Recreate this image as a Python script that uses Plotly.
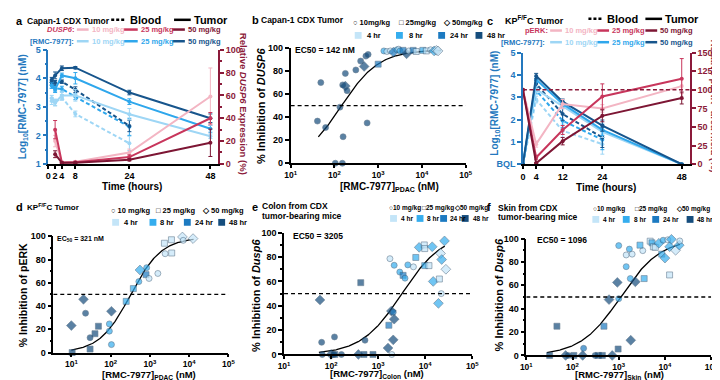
import plotly.graph_objects as go
import numpy as np

W, H = 720, 380
FONT = "Liberation Sans, Arial, sans-serif"

# ---------------- colours ----------------
BLUE = {10: '#9ED6F5', 25: '#2FA7EC', 50: '#17558C'}
RED = {10: '#F3B5C3', 25: '#C8365C', 50: '#7D1634'}
TIMEC = {4: '#C4E5F8', 8: '#35ADEE', 24: '#1C7AC1', 48: '#154D7D'}
SYM = {10: 'circle', 25: 'square', 50: 'diamond'}
AXBLUE = '#2478BE'
AXRED = '#8B1A3A'

# ---------------- panel a data ----------------
a_tumor_hours = [1, 2, 4, 8, 24, 48]
a_tumor_10 = [3.2, 3.15, 3.4, 3.4, 2.74, 1.97]
a_tumor_25 = [3.75, 3.6, 4.1, 4.0, 3.18, 2.23]
a_tumor_50 = [3.95, 4.1, 4.35, 4.37, 3.5, 2.6]
a_tumor_10_err = [0.12, 0.12, 0.15, 0.2, 0.2, 0.08]
a_tumor_25_err = [0.1, 0.1, 0.08, 0.2, 0.1, 0.12]
a_tumor_50_err = [0.08, 0.12, 0.08, 0.04, 0.08, 0.15]
a_blood_hours = [1, 2, 4, 8, 24]
a_blood_10 = [3.3, 3.15, 3.33, 2.75, 1.72]
a_blood_25 = [3.75, 3.65, 3.62, 3.35, 2.3]
a_blood_50 = [3.85, 3.84, 3.88, 3.6, 2.33]
a_blood_10_err = [0.1, 0.1, 0.1, 0.1, 0.25]
a_blood_25_err = [0.1, 0.1, 0.1, 0.1, 0.3]
a_blood_50_err = [0.08, 0.08, 0.06, 0.1, 0.2]
a_dusp_hours = [2, 4, 8, 24, 48]
a_dusp_10 = [20, 1.5, 2, 10, 59]
a_dusp_25 = [30, 1, 1.5, 6, 40]
a_dusp_50 = [8.5, 1, 1, 3.7, 18.5]
a_dusp_10_err = [5, 1, 1, 3, 25]
a_dusp_25_err = [8, 0.5, 0.5, 2, 5]
a_dusp_50_err = [3, 0.5, 0.5, 1, 12]

# ---------------- panel c data ----------------
c_tumor_hours = [0, 4, 12, 24, 48]
c_tumor_10 = [0, 3.35, 2.6, 1.45, 0]
c_tumor_25 = [0, 3.8, 2.7, 1.54, 0]
c_tumor_50 = [0, 3.95, 2.8, 1.73, 0]
c_tumor_err = [0, 0.12, 0.12, 0.25, 0]
c_blood_hours = [0, 4, 12, 24]
c_blood_10 = [0, 2.9, 1.5, 0.9]
c_blood_25 = [0, 3.3, 1.95, 1.1]
c_blood_50 = [0, 3.6, 2.25, 1.2]
c_blood_err = [0, 0.15, 0.3, 0.45]
c_perk_hours = [0, 4, 12, 24, 48]
c_perk_10 = [100, 27, 81, 75, 105]
c_perk_25 = [100, 9, 46, 91, 115]
c_perk_50 = [100, 1.3, 31, 65, 89]
c_perk_10_err = [0, 4, 6, 5, 10]
c_perk_25_err = [0, 3, 6, 17, 27]
c_perk_50_err = [0, 1, 5, 8, 8]
c_perk_ref = 100

# ---------------- panel b data ----------------
b_conc = [41, 49, 63, 105, 152, 134, 158, 155, 178, 195, 178, 309, 398, 479, 525, 590,
          560, 1000, 1350, 1580, 1900, 2240, 2700, 2950, 3160, 3700, 4470, 5000, 6300,
          7400, 10500, 12600, 15800, 19000, 21400, 23400]
b_inh = [36.6, 70, 31, 0, 0, 48.7, 23, 68, 67, 63, 78, 81, 88.7, 84, 93, 94.5,
         35, 86, 97.5, 97, 97.5, 96.5, 98.5, 99, 97.5, 98, 95, 97.5, 98,
         97, 98, 97.5, 98.5, 97.5, 98, 97.5]
b_dose = [10, 10, 10, 10, 10, 10, 10, 10, 50, 10, 10, 10, 10, 50, 10, 10,
          10, 25, 10, 10, 10, 50, 10, 10, 10, 25, 50, 10, 25,
          25, 25, 25, 10, 50, 50, 50]
b_time = [48, 48, 48, 48, 48, 48, 48, 48, 48, 48, 48, 48, 48, 48, 48, 48,
          48, 24, 8, 4, 4, 24, 8, 4, 8, 24, 48, 4, 24,
          4, 8, 4, 4, 8, 4, 4]
b_ec50 = 142
b_fit_range = [43, 27000]

# ---------------- panel d data ----------------
d_conc = [10, 10.5, 20.4, 23, 30, 30, 40, 49, 105, 93, 93, 105, 250, 380, 525, 560,
          830, 800, 955, 1600, 2350, 3550, 2450, 3600, 6760, 7080, 12600]
d_inh = [23.2, 0, 45.8, 33.8, 12.8, 3, 16.2, 22.6, 35.5, 24.6, 18.4, 6.8, 44, 55, 61, 71,
         73, 67, 63.7, 68, 94, 97, 85, 85.6, 99.4, 96.5, 98]
d_dose = [50, 25, 50, 10, 10, 25, 25, 25, 50, 10, 10, 10, 25, 25, 10, 50,
          10, 25, 10, 10, 25, 25, 10, 25, 50, 10, 50]
d_time = [48, 48, 48, 48, 48, 48, 48, 48, 48, 8, 8, 8, 8, 8, 8, 8,
          8, 24, 4, 4, 4, 4, 4, 4, 4, 4, 4]
d_ec50 = 321
d_fit_range = [10, 13000]

# ---------------- panel e data ----------------
e_conc = [58, 63, 65, 100, 115, 118, 120, 166, 380, 500, 776, 1950, 427, 525,
          1690, 1620, 2090, 1910, 2090, 2190,
          1780, 2190, 2880, 3390, 3720, 4270, 5620, 6310, 7440, 9550, 9770, 9770,
          12000, 14100, 14800, 19100, 20000, 21200, 21900, 22400, 25700, 27500]
e_inh = [44.8, 10, 0, 0, 0, 14.4, 0, 0, 0, 0, 0, 0, 59, 11.7,
         24, 5.3, 12, 35.7, 34.7, 29,
         78.7, 73.3, 67.7, 65, 62.7, 73.6, 72, 79.7, 88, 90, 87, 73,
         73, 88.5, 60, 42, 62, 83, 50, 78, 93.3, 70]
e_dose = [50, 10, 10, 50, 10, 10, 25, 10, 50, 25, 25, 10, 25, 10,
          25, 50, 50, 50, 10, 50,
          10, 10, 10, 25, 10, 10, 10, 25, 50, 25, 25, 25,
          25, 50, 50, 50, 25, 50, 10, 50, 50, 50]
e_time = [48, 48, 48, 48, 48, 48, 48, 48, 48, 48, 48, 4, 48, 48,
          24, 48, 48, 48, 24, 48,
          4, 8, 8, 24, 8, 8, 4, 8, 8, 4, 4, 8,
          4, 8, 8, 8, 4, 4, 4, 8, 8, 4]
e_ec50 = 3205
e_fit_range = [55, 26000]

# ---------------- panel f data ----------------
f_conc = [32, 71, 81, 107, 166, 309, 363, 443, 724, 46, 174, 479, 617, 970, 933, 1000,
          1000, 1820, 1450, 1450, 1700, 1950, 1780, 2290, 3310, 3550, 2880, 4790, 5250,
          5620, 6170, 7410, 9120, 8510, 10000, 11500, 13800, 12600, 12600, 17000, 20400, 20900]
f_inh = [0, 0, 0, 0, 0, 0, 0, 0, 0, 25, 6.1, 25, 47.8, 5.5, 62.5, 94,
         48.6, 13, 76, 86, 91, 86.7, 65.8, 63, 89.7, 65.8, 94.4, 97.8, 96.4,
         93, 92.5, 96, 98.6, 86.7, 83.3, 99, 99.4, 93, 68.9, 90, 94.4, 98]
f_dose = [25, 50, 10, 25, 50, 10, 25, 25, 50, 25, 10, 25, 50, 25, 50, 10,
          10, 50, 10, 10, 10, 10, 10, 50, 10, 25, 25, 25, 25,
          25, 25, 50, 10, 25, 50, 10, 50, 50, 25, 50, 50, 10]
f_time = [48, 48, 48, 48, 48, 48, 48, 48, 48, 48, 24, 24, 48, 48, 48, 8,
          8, 48, 8, 4, 8, 4, 8, 48, 4, 8, 8, 4, 8,
          4, 4, 8, 8, 8, 8, 4, 8, 8, 4, 4, 8, 4]
f_ec50 = 1096
f_fit_range = [28, 21000]

# ---------------- helpers ----------------
def px(x):
    return x / W

def py(y):
    return 1 - y / H

def dom_x(p0, p1):
    return [p0 / W, p1 / W]

def dom_y(top, bottom):
    return [1 - bottom / H, 1 - top / H]

fig = go.Figure()
annotations = []
shapes = []

def ann(x, y, text, size=9, color='black', xanchor='left', yanchor='middle', angle=0):
    annotations.append(dict(x=px(x), y=py(y), xref='paper', yref='paper', text=text,
                            showarrow=False, xanchor=xanchor, yanchor=yanchor, textangle=angle,
                            borderpad=0,
                            font=dict(family=FONT, size=size, color=color, weight='bold')))

def seg(x0, x1, y, color, dash='solid', width=2.5):
    shapes.append(dict(type='line', xref='paper', yref='paper', x0=px(x0), x1=px(x1),
                       y0=py(y), y1=py(y), line=dict(color=color, width=width, dash=dash)))

def sq(x0, y, color, s=7):
    shapes.append(dict(type='rect', xref='paper', yref='paper', x0=px(x0), x1=px(x0 + s),
                       y0=py(y + s / 2), y1=py(y - s / 2), fillcolor=color,
                       line=dict(color=color, width=0)))

def line_trace(x, y, err, color, xa, ya, dash='solid'):
    fig.add_trace(go.Scatter(x=x, y=y, mode='lines+markers', xaxis=xa, yaxis=ya,
                             line=dict(color=color, width=2, dash=dash),
                             marker=dict(color=color, size=4, symbol='circle'),
                             error_y=dict(type='data', array=err, color=color, thickness=1, width=2),
                             cliponaxis=False, showlegend=False, hoverinfo='skip'))

def scatter_panel(conc, inh, dose, time, xa, ya):
    fig.add_trace(go.Scatter(x=conc, y=inh, mode='markers', xaxis=xa, yaxis=ya,
                             marker=dict(symbol=[SYM[d] for d in dose],
                                         color=[TIMEC[t] for t in time],
                                         size=[7.5 if d == 50 else 6 for d in dose],
                                         line=dict(width=0.6, color='#2b4a66')),
                             cliponaxis=False, showlegend=False, hoverinfo='skip'))

def fit_curve(ec50, rng, xa, ya, top=100.0, hill=1.0):
    xs = np.logspace(np.log10(rng[0]), np.log10(rng[1]), 200)
    ys = top / (1 + (ec50 / xs) ** hill)
    fig.add_trace(go.Scatter(x=xs, y=ys, mode='lines', xaxis=xa, yaxis=ya,
                             line=dict(color='black', width=1.3), showlegend=False,
                             hoverinfo='skip'))

def half_line(xref, yref, x0, x1):
    shapes.append(dict(type='line', xref=xref, yref=yref, x0=x0, x1=x1, y0=50, y1=50,
                       line=dict(color='black', width=1.3, dash='4px,3px')))

# ---------------- panel a traces ----------------
for dose, ys, er in [(10, a_blood_10, a_blood_10_err), (25, a_blood_25, a_blood_25_err), (50, a_blood_50, a_blood_50_err)]:
    line_trace(a_blood_hours, ys, er, BLUE[dose], 'x', 'y', dash='4px,2.5px')
for dose, ys, er in [(10, a_tumor_10, a_tumor_10_err), (25, a_tumor_25, a_tumor_25_err), (50, a_tumor_50, a_tumor_50_err)]:
    line_trace(a_tumor_hours, ys, er, BLUE[dose], 'x', 'y')
for dose, ys, er in [(10, a_dusp_10, a_dusp_10_err), (25, a_dusp_25, a_dusp_25_err), (50, a_dusp_50, a_dusp_50_err)]:
    line_trace(a_dusp_hours, ys, er, RED[dose], 'x', 'y2')

# ---------------- panel c traces ----------------
shapes.append(dict(type='line', xref='x3', yref='y5', x0=0, x1=50.4, y0=c_perk_ref, y1=c_perk_ref,
                   line=dict(color=AXRED, width=1.5, dash='4px,2.5px')))
for dose, ys in [(10, c_perk_10), (25, c_perk_25), (50, c_perk_50)]:
    er = {10: c_perk_10_err, 25: c_perk_25_err, 50: c_perk_50_err}[dose]
    line_trace(c_perk_hours, ys, er, RED[dose], 'x3', 'y5')
for dose, ys in [(10, c_blood_10), (25, c_blood_25), (50, c_blood_50)]:
    line_trace(c_blood_hours, ys, c_blood_err, BLUE[dose], 'x3', 'y4', dash='4px,2.5px')
for dose, ys in [(10, c_tumor_10), (25, c_tumor_25), (50, c_tumor_50)]:
    line_trace(c_tumor_hours, ys, c_tumor_err, BLUE[dose], 'x3', 'y4')

# ---------------- scatter panels ----------------
half_line('x2', 'y3', 10, 1e5)
fit_curve(b_ec50, b_fit_range, 'x2', 'y3', top=98.5)
scatter_panel(b_conc, b_inh, b_dose, b_time, 'x2', 'y3')

half_line('x4', 'y6', 10 ** 0.54, 1e5)
fit_curve(d_ec50, d_fit_range, 'x4', 'y6', top=99, hill=1.1)
scatter_panel(d_conc, d_inh, d_dose, d_time, 'x4', 'y6')

half_line('x5', 'y7', 10, 1e5)
fit_curve(e_ec50, e_fit_range, 'x5', 'y7')
scatter_panel(e_conc, e_inh, e_dose, e_time, 'x5', 'y7')

half_line('x6', 'y8', 10, 1e5)
fit_curve(f_ec50, f_fit_range, 'x6', 'y8')
scatter_panel(f_conc, f_inh, f_dose, f_time, 'x6', 'y8')

# ---------------- axes ----------------
def tf(color='black', size=9):
    return dict(family=FONT, size=size, color=color, weight='bold')

def axis(**kw):
    base = dict(showline=True, linewidth=1.5, linecolor='black', ticks='outside', ticklen=4,
                tickwidth=1.5, tickcolor='black', showgrid=False, zeroline=False, tickangle=0,
                tickfont=tf(), fixedrange=True)
    base.update(kw)
    return base

LOGVALS = [10, 100, 1000, 10000, 100000]
LOGTEXT = ['10<sup>1</sup>', '10<sup>2</sup>', '10<sup>3</sup>', '10<sup>4</sup>', '10<sup>5</sup>']

a_xmax = (208 - 35) / ((200 - 35) / 48)
c_xmax = (688.3 - 518.3) / ((680 - 518.3) / 48)

def logx(dom, rng, anchor):
    return axis(domain=dom, type='log', range=rng, tickvals=LOGVALS, ticktext=LOGTEXT,
                anchor=anchor, ticklen=3, tickfont=tf(size=8.5))

layout_axes = dict(
    xaxis=axis(domain=dom_x(35, 208), range=[0, a_xmax], tickvals=[0, 2, 4, 8, 24, 48], anchor='y',
               ticklen=3),
    yaxis=axis(domain=dom_y(37.7, 155), range=[1, 5], tickvals=[1, 2, 3, 4, 5], anchor='x',
               linecolor=AXBLUE, tickcolor=AXBLUE, tickfont=tf(AXBLUE),
               minor=dict(ticks='outside', ticklen=2, tickcolor=AXBLUE, dtick=0.5)),
    yaxis2=axis(overlaying='y', side='right', anchor='x', range=[0, 100],
                tickvals=[0, 20, 40, 60, 80, 100], linecolor=AXRED, tickcolor=AXRED,
                tickfont=tf(AXRED),
                minor=dict(ticks='outside', ticklen=2, tickcolor=AXRED, dtick=10)),
    xaxis2=logx(dom_x(281.7, 460), [1, 5], 'y3'),
    yaxis3=axis(domain=dom_y(36, 154.3), range=[0, 100], tickvals=[0, 20, 40, 60, 80, 100],
                anchor='x2'),
    xaxis3=axis(domain=dom_x(518.3, 688.3), range=[0, c_xmax], tickvals=[0, 4, 12, 24, 48],
                anchor='y4', ticklen=3),
    yaxis4=axis(domain=dom_y(40.7, 155.3), range=[0, 5], tickvals=[0, 1, 2, 3, 4, 5],
                ticktext=['BQL', '1', '2', '3', '4', '5'], anchor='x3',
                linecolor=AXBLUE, tickcolor=AXBLUE, tickfont=tf(AXBLUE)),
    yaxis5=axis(overlaying='y4', side='right', anchor='x3', range=[0, 150],
                tickvals=[0, 25, 50, 75, 100, 125, 150], linecolor=AXRED, tickcolor=AXRED,
                tickfont=tf(AXRED)),
    xaxis4=logx(dom_x(40, 218.3), [0.54, 5], 'y6'),
    yaxis6=axis(domain=dom_y(229.3, 348.7), range=[0, 100], tickvals=[0, 20, 40, 60, 80, 100],
                anchor='x4', minor=dict(ticks='outside', ticklen=2, dtick=10)),
    xaxis5=logx(dom_x(275, 466.7), [1, 5], 'y7'),
    yaxis7=axis(domain=dom_y(225.7, 350.7), range=[0, 100], tickvals=[0, 20, 40, 60, 80, 100],
                anchor='x5', minor=dict(ticks='outside', ticklen=2, dtick=10)),
    xaxis6=logx(dom_x(521.7, 710), [1, 5], 'y8'),
    yaxis8=axis(domain=dom_y(231.7, 351.7), range=[0, 100], tickvals=[0, 20, 40, 60, 80, 100],
                anchor='x6', minor=dict(ticks='outside', ticklen=2, dtick=10)),
)

# ---------------- headers / legends ----------------
# panel a
ann(1, 8, 'a', size=11)
ann(12, 8, 'Capan-1 CDX Tumor', size=8.5)
seg(99, 114, 7, 'black', dash='3px,2px', width=2.5)
ann(117, 7, 'Blood', size=11)
seg(163, 180, 7, 'black', width=2.5)
ann(182, 7, 'Tumor', size=11)
ann(63, 17, '<i>DUSP6</i>:', size=7.5, color=RED[25], xanchor='right')
ann(62, 29, '[RMC-7977]:', size=7.5, color=AXBLUE, xanchor='right')
for y, cols in [(17, RED), (29, BLUE)]:
    for (x0, x1, xt), d in zip([(64, 76, 78), (112, 126, 128), (161, 174, 176)], [10, 25, 50]):
        seg(x0, x1, y, cols[d], width=2.5)
        ann(xt, y, '%d mg/kg' % d, size=7.5, color=cols[d])

# panel c
ann(481, 8, 'c', size=11)
ann(499, 7, 'KP<sup>F/F</sup>C Tumor', size=9)
seg(585, 600, 6, 'black', dash='3px,2px', width=2.5)
ann(603, 6, 'Blood', size=11)
seg(643, 660, 6, 'black', width=2.5)
ann(662, 6, 'Tumor', size=11)
ann(545, 18, 'pERK:', size=7.5, color=RED[25], xanchor='right')
ann(542, 30, '[RMC-7977]:', size=7.5, color=AXBLUE, xanchor='right')
for y, cols in [(18, RED), (30, BLUE)]:
    for (x0, x1, xt), d in zip([(546, 558, 560), (594, 606, 608), (643, 655, 657)], [10, 25, 50]):
        seg(x0, x1, y, cols[d], width=2.5)
        ann(xt, y, '%d mg/kg' % d, size=7.5, color=cols[d])

def dose_time_legend(y1, y2, dose_x, sq_x, txt_x, size=7.5, fmt='%d mg/kg', sep=' '):
    for x, d, s in zip(dose_x, [10, 25, 50], ['○', '□', '◇']):
        ann(x, y1, s + sep + (fmt % d), size=size)
    for x, xt, t in zip(sq_x, txt_x, [4, 8, 24, 48]):
        sq(x, y2, TIMEC[t])
        ann(xt, y2, '%d hr' % t, size=size)

# panel b
ann(241, 7, 'b', size=11)
ann(251, 7, 'Capan-1 CDX Tumor', size=8.5)
dose_time_legend(10, 23, [344, 391, 436], [347, 389, 432, 470], [358, 401, 443, 481], fmt='%dmg/kg')

# panel d
ann(1, 199, 'd', size=11)
ann(12, 199, 'KP<sup>F/F</sup>C Tumor', size=8)
dose_time_legend(203, 215, [98, 144, 190], [100, 138, 173, 208], [111, 148, 183, 218])

# panel e
ann(241, 199, 'e', size=11)
ann(252, 198, 'Colon from CDX', size=8.5)
ann(252, 208, 'tumor-bearing mice', size=8.5)
dose_time_legend(200, 211, [381, 414, 447], [383, 410, 434, 456], [393, 420, 443, 466], size=6.5, sep='')

# panel f
ann(481, 199, 'f', size=11)
ann(492, 200, 'Skin from CDX', size=8.5)
ann(492, 210, 'tumor-bearing mice', size=8.5)
dose_time_legend(201, 212, [589, 631, 673], [589, 620, 650, 685], [599, 630, 660, 695], size=6.5, sep='')

# EC50 labels
ann(285, 38, 'EC50 = %d nM' % b_ec50, size=8.5)
ann(43, 232, 'EC<sub>50</sub> = %d nM' % d_ec50, size=7)
ann(283, 229, 'EC50 = %d' % e_ec50, size=8.5)
ann(532, 233, 'EC50 = %d' % f_ec50, size=8.5)

# axis titles
ann(10, 96, 'Log<sub>10</sub>[RMC-7977] (nM)', size=10, color=AXBLUE, xanchor='center', angle=-90)
ann(234, 93, 'Relative <i>DUSP6</i> Expression (%)', size=9.5, color=AXRED, xanchor='center', angle=90)
ann(120, 178.5, 'Time (hours)', size=10, xanchor='center')
ann(251, 95, '% Inhibition of <i>DUSP6</i>', size=11, xanchor='center', angle=-90)
ann(382, 179, '[RMC-7977]<sub>PDAC</sub> (nM)', size=10, xanchor='center')
ann(489, 93, 'Log<sub>10</sub>[RMC-7977] (nM)', size=10, color=AXBLUE, xanchor='center', angle=-90)
ann(714, 95, 'Relative pERK<sup>+</sup> area /field (%)', size=9.5, color=AXRED, xanchor='center', angle=90)
ann(603, 179, 'Time (hours)', size=10, xanchor='center')
ann(10, 290, '% Inhibition of pERK', size=10.5, xanchor='center', angle=-90)
ann(137, 371.5, '[RMC-7977]<sub>PDAC</sub> (nM)', size=9.5, xanchor='center')
ann(247, 290, '% Inhibition of <i>Dusp6</i>', size=11, xanchor='center', angle=-90)
ann(370, 371, '[RMC-7977]<sub>Colon</sub> (nM)', size=9.5, xanchor='center')
ann(494, 290, '% Inhibition of <i>Dusp6</i>', size=11, xanchor='center', angle=-90)
ann(617, 371.5, '[RMC-7977]<sub>Skin</sub> (nM)', size=9.5, xanchor='center')

fig.update_layout(width=W, height=H, margin=dict(l=0, r=0, t=0, b=0),
                  paper_bgcolor='white', plot_bgcolor='white', showlegend=False,
                  font=dict(family=FONT, size=9, color='black'),
                  annotations=annotations, shapes=shapes, **layout_axes)

fig.write_html('out.html')
